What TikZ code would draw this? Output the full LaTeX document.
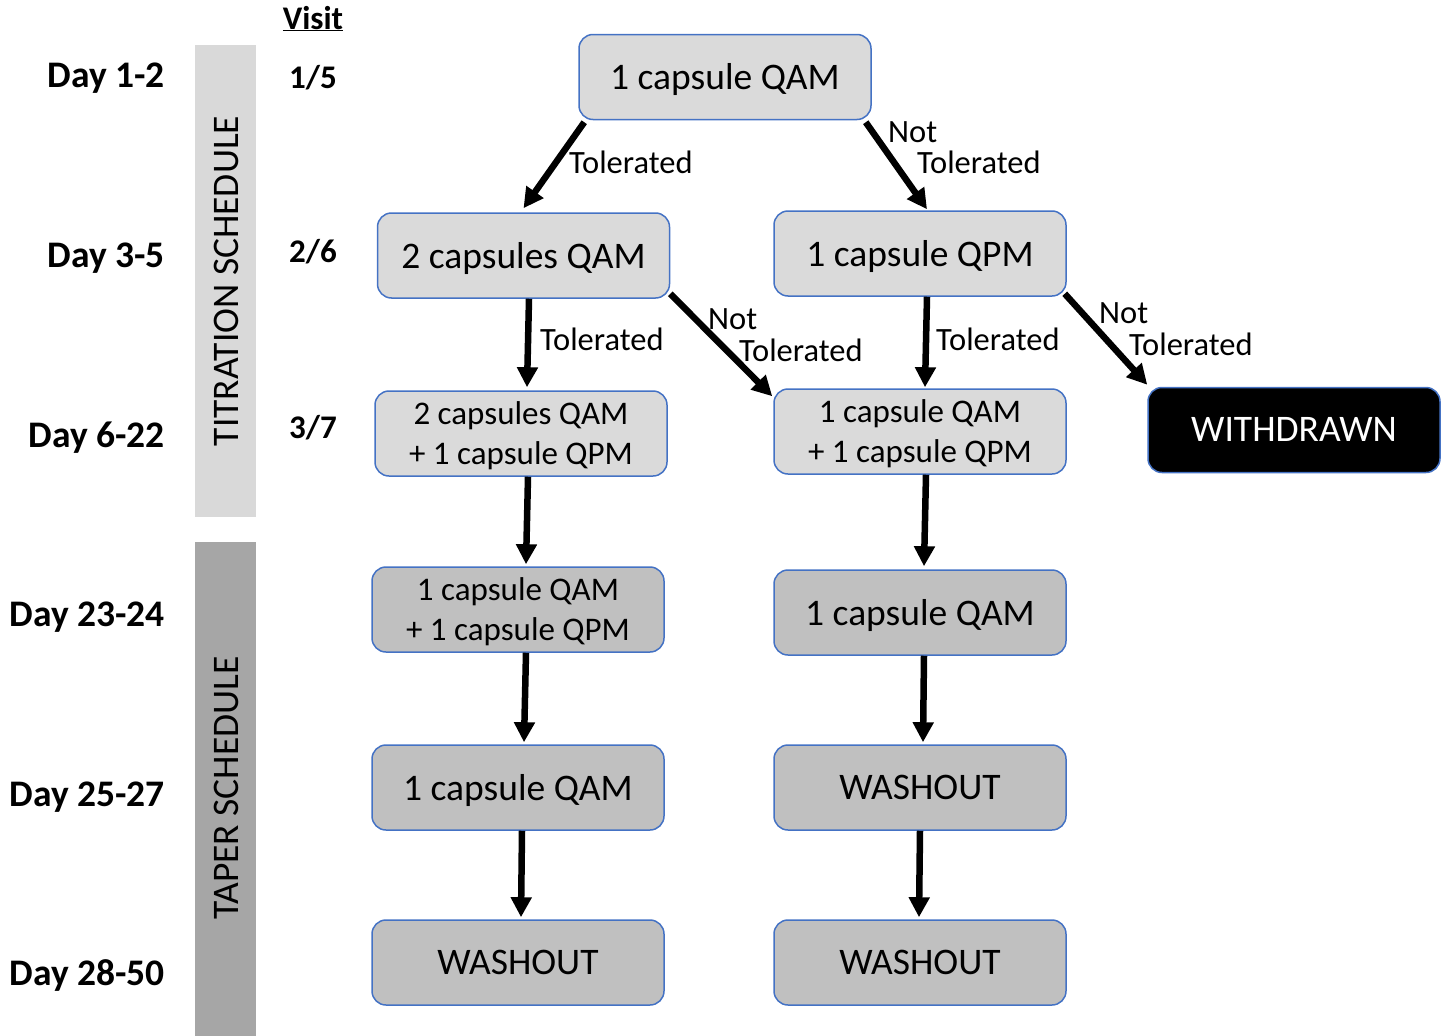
\documentclass[tikz,border=0pt]{standalone}
\usepackage{fontspec}
\setmainfont{Carlito}
\usetikzlibrary{arrows.meta,calc}
\definecolor{bordblue}{RGB}{68,114,196}
\definecolor{lightbox}{RGB}{218,218,218}
\definecolor{darkbox}{RGB}{192,192,192}
\definecolor{barlight}{RGB}{217,217,217}
\definecolor{bardark}{RGB}{166,166,166}
\begin{document}
\begin{tikzpicture}[x=1pt,y=-1pt,
  box/.style={draw=bordblue,line width=1.5pt,rounded corners=14pt,minimum width=292pt,minimum height=85pt,inner sep=0pt,text depth=1pt,align=center,font=\fontsize{37.5}{40}\selectfont},
  tbox/.style={box,fill=lightbox},
  pbox/.style={box,fill=darkbox},
  twoline/.style={font=\fontsize{33}{40}\selectfont},
  arr/.style={line width=6.5pt,-{Triangle[length=20pt,width=20pt]}},
  lab/.style={anchor=base west,inner sep=0pt,font=\fontsize{32.5}{32}\selectfont},
  day/.style={anchor=base east,inner sep=0pt,font=\fontsize{37.5}{37}\selectfont\bfseries},
  visit/.style={anchor=base,inner sep=0pt,font=\fontsize{33}{33}\selectfont\bfseries},
  bartext/.style={rotate=90,inner sep=0pt,font=\fontsize{37.5}{37}\selectfont}]
\useasboundingbox (0,0) rectangle (1446,1036);
% schedule bars
\fill[barlight] (195,45) rectangle (256,517);
\fill[bardark] (195,542) rectangle (256,1036);
\node[bartext] (tit) at (226,281) {TITRATION SCHEDULE};
\node[bartext] (tap) at (226,788) {TAPER SCHEDULE};
% day labels
\node[day] (d1) at (165,87) {Day 1-2};
\node[day] (d2) at (165,267) {Day 3-5};
\node[day] (d3) at (165,447) {Day 6-22};
\node[day] (d4) at (165,626) {Day 23-24};
\node[day] (d5) at (165,806) {Day 25-27};
\node[day] (d6) at (165,985) {Day 28-50};
% visit column
\node[visit] (vh) at (313,29) {\underline{Visit}};
\node[visit] (v1) at (313,88) {1/5};
\node[visit] (v2) at (313,262) {2/6};
\node[visit] (v3) at (313,438) {3/7};
% boxes
\node[tbox] (b1) at (725,77) {1 capsule QAM};
\node[tbox] (b2) at (523.5,255.5) {2 capsules QAM};
\node[tbox] (b3) at (920,253.5) {1 capsule QPM};
\node[tbox,twoline] (b4) at (521,433.5) {2 capsules QAM\\+ 1 capsule QPM};
\node[tbox,twoline] (b5) at (920,431.5) {1 capsule QAM\\+ 1 capsule QPM};
\node[box,fill=black,text=white] (b6) at (1294,430) {WITHDRAWN};
\node[pbox,twoline] (b7) at (518,609.5) {1 capsule QAM\\+ 1 capsule QPM};
\node[pbox] (b8) at (920,612.5) {1 capsule QAM};
\node[pbox] (b9) at (518,787.5) {1 capsule QAM};
\node[pbox] (b10) at (920,787.5) {WASHOUT};
\node[pbox] (b11) at (518,962.5) {WASHOUT};
\node[pbox] (b12) at (920,962.5) {WASHOUT};
% arrows
\draw[arr] ([shift={(6,2)}]b1.south west) -- ([shift={(0,-4)}]b2.north);
\draw[arr] ([shift={(-6,2)}]b1.south east) -- ([shift={(7,-1)}]b3.north);
\draw[arr] ([shift={(5.5,0)}]b2.south) -- ([shift={(6,-3)}]b4.north);
\draw[arr] ([shift={(0,-5)}]b2.south east) -- ([shift={(-1,8)}]b5.north west);
\draw[arr] ([shift={(7,0)}]b3.south) -- ([shift={(5,-1)}]b5.north);
\draw[arr] ([shift={(-2,-3)}]b3.south east) -- ([shift={(0,-2)}]b6.north west);
\draw[arr] ([shift={(7,0)}]b4.south) -- ([shift={(8,-2)}]b7.north);
\draw[arr] ([shift={(6,0)}]b5.south) -- ([shift={(4,-3)}]b8.north);
\draw[arr] ([shift={(8,0)}]b7.south) -- ([shift={(6,-2)}]b9.north);
\draw[arr] ([shift={(4,0)}]b8.south) -- ([shift={(3,-2)}]b10.north);
\draw[arr] ([shift={(4,0)}]b9.south) -- ([shift={(3,-2)}]b11.north);
\draw[arr] ([shift={(0,0)}]b10.south) -- ([shift={(-1,-2)}]b12.north);
% arrow labels
\node[lab] (l1) at (569,173) {Tolerated};
\node[lab] (l2a) at (888,142) {Not};
\node[lab] (l2b) at (917,173) {Tolerated};
\node[lab] (l3) at (540,350) {Tolerated};
\node[lab] (l4a) at (708,329) {Not};
\node[lab] (l4b) at (739,361) {Tolerated};
\node[lab] (l5) at (936,350) {Tolerated};
\node[lab] (l6a) at (1099,323) {Not};
\node[lab] (l6b) at (1129,355) {Tolerated};
\end{tikzpicture}
\end{document}
